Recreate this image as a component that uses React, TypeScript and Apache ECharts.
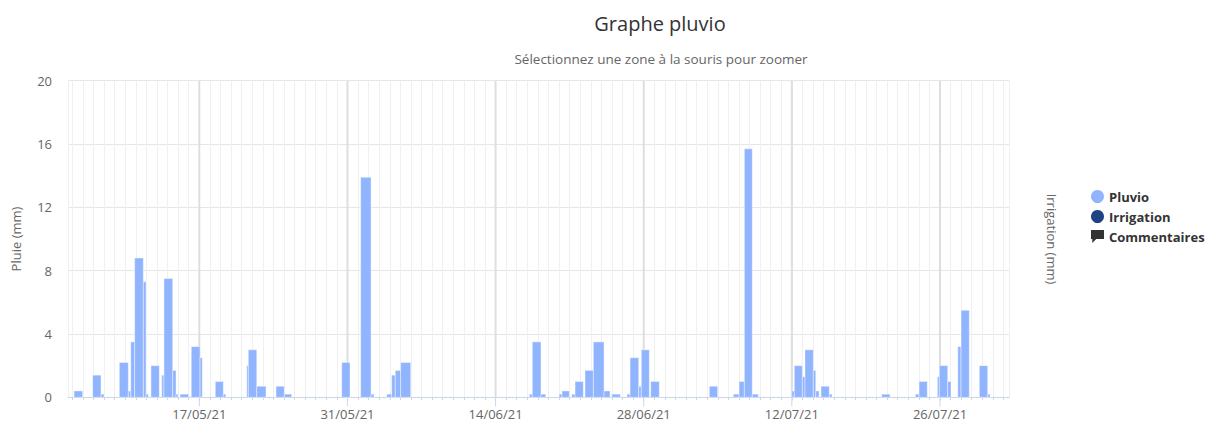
import React, { useEffect, useRef } from 'react';
import * as echarts from 'echarts';

// Time coordinates are expressed in days relative to 17/05/2021 00:00 UTC
const BASE_DATE = '2021-05-17';
const DAY = 86400000;
const axisStartDay = -12.41;
const axisEndDay = 76.55;

const majorTickDates = ['2021-05-17', '2021-05-31', '2021-06-14', '2021-06-28', '2021-07-12', '2021-07-26'];

// Pluvio (rain) records: start / end (days from base) and amount (mm)
const pluvioStart = [
  -11.84, -10.08, -9.29, -7.56, -6.71, -6.48, -6.11, -5.29, -5.04, -4.57,
  -3.55, -3.34, -2.51, -2.2, -1.82, -0.76, 0.07, 1.51, 2.27, 4.48,
  4.63, 5.43, 7.25, 8.03, 13.46, 15.25, 16.23, 17.71, 18.18, 18.52,
  19.03, 31.19, 31.47, 32.29, 34.0, 34.28, 35.2, 35.51, 36.45, 37.24,
  38.25, 38.98, 40.42, 40.71, 41.53, 41.77, 42.66, 48.2, 50.47, 51.01,
  51.51, 52.26, 55.99, 56.23, 56.99, 57.24, 58.03, 58.26, 58.76, 59.54,
  64.49, 67.67, 68.02, 69.75, 69.94, 70.73, 71.68, 71.99, 73.72, 74.51,
];
const pluvioEnd = [
  -11.02, -9.29, -9.01, -6.71, -6.48, -6.11, -5.29, -5.04, -4.82, -3.78,
  -3.34, -2.51, -2.2, -2.01, -1.0, 0.07, 0.28, 2.27, 2.5, 4.63,
  5.43, 6.3, 8.03, 8.73, 14.24, 16.23, 16.51, 18.18, 18.52, 19.03,
  19.98, 31.47, 32.29, 32.74, 34.28, 34.97, 35.51, 36.29, 37.24, 38.25,
  38.82, 39.79, 40.71, 41.53, 41.77, 42.53, 43.47, 48.99, 51.01, 51.51,
  52.26, 52.83, 56.23, 56.99, 57.24, 58.03, 58.26, 58.57, 59.54, 59.8,
  65.28, 68.02, 68.8, 69.94, 70.73, 71.04, 71.99, 72.77, 74.51, 74.73,
];
const pluvioMm = [
  0.4, 1.4, 0.2, 2.2, 0.4, 3.5, 8.8, 7.3, 0.2, 2.0,
  1.4, 7.5, 1.7, 0.2, 0.2, 3.2, 2.5, 1.0, 0.2, 2.0,
  3.0, 0.7, 0.7, 0.2, 2.2, 13.9, 0.2, 0.2, 1.4, 1.7,
  2.2, 0.2, 3.5, 0.2, 0.2, 0.4, 0.2, 1.0, 1.7, 3.5,
  0.4, 0.2, 0.2, 2.5, 0.7, 3.0, 1.0, 0.7, 0.2, 1.0,
  15.7, 0.2, 0.4, 2.0, 1.3, 3.0, 1.7, 0.4, 0.7, 0.2,
  0.2, 0.2, 1.0, 1.3, 2.0, 1.0, 3.2, 5.5, 2.0, 0.2,
];

const irrigationMm: number[][] = [];
const comments: number[][] = [];

const yTicks = { min: 0, max: 20, interval: 4 };

const FONT = '"Open Sans", "Noto Sans", sans-serif';
const PLUVIO_COLOR = '#90b4fd';
const IRRIGATION_COLOR = '#1d4385';
const COMMENT_COLOR = '#333333';

export default function App() {
  const ref = useRef<HTMLDivElement>(null);

  useEffect(() => {
    if (!ref.current) return;
    const chart = echarts.init(ref.current, null, { renderer: 'svg' });
    const base = Date.parse(BASE_DATE + 'T00:00:00Z');
    const toTime = (d: number) => base + d * DAY;
    const majorSet = new Set(majorTickDates.map((s) => Math.round(Date.parse(s + 'T00:00:00Z') / DAY)));
    const pad = (n: number) => (n < 10 ? '0' + n : '' + n);

    const pluvioData = pluvioStart.map((s, i) => [toTime(s), toTime(pluvioEnd[i]), pluvioMm[i]]);
    const majorData = majorTickDates.map((s) => [Date.parse(s + 'T00:00:00Z'), 0]);

    const option: any = {
      animation: false,
      useUTC: true,
      textStyle: { fontFamily: FONT },
      title: [
        {
          text: 'Graphe pluvio',
          left: 655,
          top: 8,
          textAlign: 'center',
          textStyle: { fontSize: 20, fontWeight: 'normal', color: '#333333', fontFamily: FONT },
        },
        {
          text: 'Sélectionnez une zone à la souris pour zoomer',
          left: 656,
          top: 47,
          textAlign: 'center',
          textStyle: { fontSize: 13.5, fontWeight: 'normal', color: '#666666', fontFamily: FONT },
        },
      ],
      legend: {
        orient: 'vertical',
        left: 1086,
        top: 185,
        itemWidth: 13,
        itemHeight: 13,
        itemGap: 7,
        textStyle: { fontWeight: 'bold', fontSize: 13, color: '#333333', fontFamily: FONT },
        data: [
          { name: 'Pluvio', icon: 'circle' },
          { name: 'Irrigation', icon: 'circle' },
          { name: 'Commentaires', icon: 'path://M0,0 L10,0 L10,7 L4,7 L1,10 L1,7 L0,7 Z' },
        ],
      },
      grid: { left: 68, right: 200.7, top: 80.7, bottom: 25.7 },
      xAxis: {
        type: 'time',
        min: toTime(axisStartDay),
        max: toTime(axisEndDay),
        minInterval: DAY,
        maxInterval: DAY,
        axisLine: { lineStyle: { color: '#ccd6eb', width: 1 } },
        axisTick: { show: true, length: 3, lineStyle: { color: '#ccd6eb' } },
        splitLine: { show: true, lineStyle: { color: '#f0f0f0', width: 1 } },
        axisLabel: {
          color: '#666666',
          fontSize: 13,
          margin: 10,
          hideOverlap: false,
          fontFamily: FONT,
          formatter: (v: number) => {
            const k = Math.round(v / DAY);
            if (!majorSet.has(k)) return '';
            const d = new Date(v);
            return pad(d.getUTCDate()) + '/' + pad(d.getUTCMonth() + 1) + '/' + pad(d.getUTCFullYear() % 100);
          },
        },
      },
      yAxis: [
        {
          type: 'value',
          min: yTicks.min,
          max: yTicks.max,
          interval: yTicks.interval,
          name: 'Pluie (mm)',
          nameLocation: 'middle',
          nameGap: 46,
          nameTextStyle: { color: '#666666', fontSize: 13, fontFamily: FONT },
          axisLine: { show: false },
          axisTick: { show: false },
          axisLabel: { color: '#666666', fontSize: 13, margin: 16, fontFamily: FONT },
          splitLine: { lineStyle: { color: '#e6e6e6', width: 1 } },
        },
        {
          type: 'value',
          position: 'right',
          min: yTicks.min,
          max: yTicks.max,
          name: 'Irrigation (mm)',
          nameLocation: 'middle',
          nameGap: 36,
          nameRotate: -90,
          nameTextStyle: { color: '#666666', fontSize: 13, fontFamily: FONT },
          axisLine: { show: false },
          axisTick: { show: false },
          axisLabel: { show: false },
          splitLine: { show: false },
        },
      ],
      series: [
        {
          name: 'Pluvio',
          type: 'custom',
          z: 3,
          itemStyle: { color: PLUVIO_COLOR },
          encode: { x: [0, 1], y: 2 },
          data: pluvioData,
          renderItem: (params: any, api: any) => {
            const p0 = api.coord([api.value(0), api.value(2)]);
            const p1 = api.coord([api.value(1), 0]);
            return {
              type: 'rect',
              shape: { x: p0[0], y: p0[1], width: p1[0] - p0[0], height: p1[1] - p0[1] },
              style: { fill: api.visual('color'), stroke: 'rgba(255,255,255,0.7)', lineWidth: 0.6 },
            };
          },
        },
        {
          name: 'Irrigation',
          type: 'scatter',
          yAxisIndex: 1,
          itemStyle: { color: IRRIGATION_COLOR, opacity: 1 },
          data: irrigationMm,
        },
        {
          name: 'Commentaires',
          type: 'scatter',
          itemStyle: { color: COMMENT_COLOR, opacity: 1 },
          data: comments,
        },
        {
          name: 'majorGrid',
          type: 'custom',
          z: 1,
          silent: true,
          encode: { x: 0, y: 1 },
          data: majorData,
          renderItem: (params: any, api: any) => {
            const p = api.coord([api.value(0), 0]);
            const top = params.coordSys.y;
            return {
              type: 'group',
              children: [
                { type: 'line', shape: { x1: p[0], y1: top, x2: p[0], y2: p[1] }, style: { stroke: '#dedede', lineWidth: 2 } },
                { type: 'line', shape: { x1: p[0], y1: p[1], x2: p[0], y2: p[1] + 9 }, style: { stroke: '#ccd6eb', lineWidth: 1 } },
              ],
            };
          },
        },
      ],
    };

    chart.setOption(option);
    return () => chart.dispose();
  }, []);

  return <div ref={ref} style={{ position: 'absolute', left: 0, top: 0, width: 1210, height: 423 }} />;
}
